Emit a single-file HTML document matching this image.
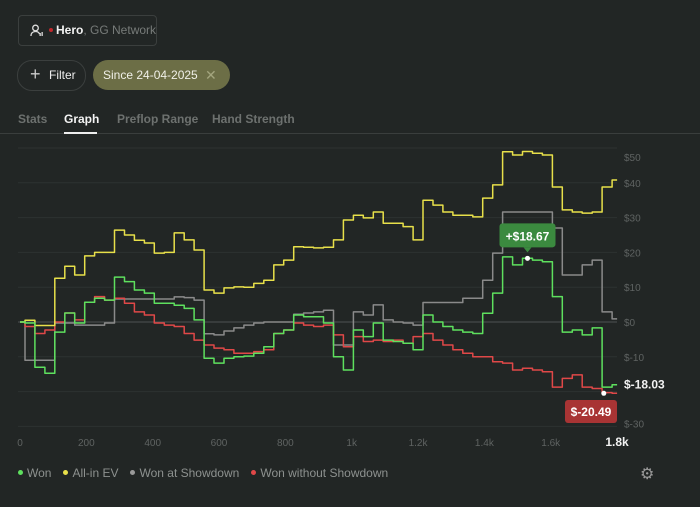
<!DOCTYPE html>
<html><head><meta charset="utf-8"><style>
body{margin:0;width:700px;height:507px;background:#222625;font-family:"Liberation Sans",sans-serif;overflow:hidden;position:relative;color:#ddd}
.abs{position:absolute;white-space:nowrap}
#hdr{left:18px;top:15px;width:137px;height:29px;border:1px solid #3b3f3e;border-radius:4px;font-size:12px;line-height:29px}
#filter{left:17px;top:60px;width:67px;height:29px;border:1px solid #3b3f3e;border-radius:15px;font-size:12px;line-height:29px}
#since{left:93px;top:60px;width:137px;height:30px;background:#6c6e46;border-radius:15px;font-size:12px;line-height:30px;color:#f0f0e8}
.tab{top:112px;font-size:12px;font-weight:bold;color:#6d716f}
#legend{left:18px;top:466px;font-size:12px;color:#8d918f}
#legend span{margin-right:12px}
.dot{display:inline-block;width:5px;height:5px;border-radius:50%;margin-right:4px;vertical-align:middle;position:relative;top:-1px}
</style></head><body>
<div id="hdr" class="abs">
<svg class="abs" style="left:11px;top:8px" width="14" height="14" viewBox="0 0 14 14"><circle cx="5.5" cy="4" r="2.8" fill="none" stroke="#ddd" stroke-width="1.3"/><path d="M1 12c0-3 2-4.5 4.5-4.5S9 8.5 9.5 10" fill="none" stroke="#ddd" stroke-width="1.3"/><rect x="9.5" y="9" width="1.3" height="3" fill="#ddd"/><rect x="11.5" y="8" width="1.3" height="4" fill="#ddd"/></svg>
<span class="abs" style="left:30px;top:12px;width:4px;height:4px;border-radius:50%;background:#c0282c"></span>
<span class="abs" style="left:37px;top:0"><b style="color:#f2f2f2">Hero</b><span style="color:#777b79">, GG Network</span></span>
</div>
<div id="filter" class="abs"><span class="abs" style="left:12px;top:-1px;font-size:18px;color:#ccc">+</span><span class="abs" style="left:31px;color:#eee">Filter</span></div>
<div id="since" class="abs"><span class="abs" style="left:10px">Since 24-04-2025</span><span class="abs" style="left:112px;color:#a3a57e;font-size:14px">✕</span></div>
<div class="abs tab" style="left:18px">Stats</div>
<div class="abs tab" style="left:64px;color:#f4f4f4">Graph</div>
<div class="abs tab" style="left:117px">Preflop Range</div>
<div class="abs tab" style="left:212px">Hand Strength</div>
<div class="abs" style="left:0;top:133px;width:700px;height:1px;background:#3a3e3d"></div>
<div class="abs" style="left:64px;top:132px;width:33px;height:2px;background:#eee"></div>
<svg id="chart" class="abs" style="left:0;top:0" width="700" height="460"></svg>
<div id="legend" class="abs">
<span><i class="dot" style="background:#5ee05e"></i>Won</span><span><i class="dot" style="background:#e8e04a"></i>All-in EV</span><span><i class="dot" style="background:#999"></i>Won at Showdown</span><span><i class="dot" style="background:#e04848"></i>Won without Showdown</span>
</div>
<div class="abs" style="left:640px;top:464px;font-size:16px;color:#999">⚙</div>
<script>
const hands=[0,30,60,90,120,150,180,210,240,270,300,330,360,390,420,450,480,510,540,570,600,630,660,690,720,750,780,810,840,870,900,930,960,990,1020,1050,1080,1110,1140,1170,1200,1230,1260,1290,1320,1350,1380,1410,1440,1470,1500,1530,1560,1590,1620,1650,1680,1710,1740,1770,1800];
const allinEV=[0,0.5,-1,-1,12.6,16,13.5,19,20,20,26.4,25,23.5,22.7,19.8,20,25.6,23.6,20.7,9.2,8.3,9.8,10.1,10,11.1,12,16.4,17.8,21.6,21.5,21.3,21.5,23.6,29.3,30.7,29.9,31.6,28.4,28.4,27.4,23.6,35,33.6,31.6,30.7,30.7,30.2,35.6,39.4,48.9,48,49,48.5,48,38.8,32.2,31.6,31.3,31.6,38.8,40.8];
const won=[0,-0.3,-13,-14.7,-2.9,2.6,-0.3,5.7,6.8,6.3,12.9,11.6,9.2,8.3,5.4,5.4,4.8,3.9,0.6,-10.4,-11.8,-10.4,-10,-9.8,-9,-7.1,-3.3,-2.3,2,1.5,1.5,-0.3,-10,-13.8,-2.3,-4.2,-0.3,-5.2,-5.6,-6.1,-8,2,0,-1.3,-2.3,-2.9,-3.3,2.5,8.3,18.7,16.4,18.3,17.8,17.3,7.3,-2.9,-2.3,-3.7,-1.7,-18.7,-18.03];
const showdown=[0,-11,-11,-11,-0.3,-0.3,-0.9,-0.9,-0.9,-0.3,6.6,6.6,6.6,6.6,6.6,6.6,7.2,7,6.3,-3.4,-3.7,-2.6,-1.7,-0.9,-0.3,0,0,0,2.2,2.6,2.9,3.4,-6.6,-6.6,2.9,2,4.9,0.6,0,-0.3,-0.9,5.6,5.6,5.6,5.6,6.8,6.8,12,19.8,31.6,31.6,31.6,31.6,31.6,27,13.5,13.5,16.4,17.8,2.9,0.9];
const noShowdown=[0,-1.3,-3.3,-2.3,0,2.6,0.6,5.7,7.3,6.3,6.8,5.4,2.9,2,-0.3,-0.9,-1.3,-3.3,-5.2,-6.6,-7.5,-8,-9,-9,-8.5,-8,-3.3,-2.3,-0.3,-0.9,-1.3,-0.9,-3.7,-7.1,-4.2,-5.6,-5.2,-5.6,-5.2,-6.1,-4.2,-3.3,-5.2,-6.6,-8,-9,-10,-10,-11.4,-11.8,-13.8,-13.3,-13.8,-14.3,-18.7,-16.2,-15.2,-18.7,-19.1,-20.3,-20.49];
const yTicks=[50,40,30,20,10,0,-10,-20,-30];
const yTickLabels=["$50","$40","$30","$20","$10","$0","$-10","$-20","$-30"];
const xTicks=[0,200,400,600,800,1000,1200,1400,1600,1800];
const xTickLabels=["0","200","400","600","800","1k","1.2k","1.4k","1.6k","1.8k"];
const x=h=>20+h*0.3317;
const y=v=>322-v*3.48;
const svg=document.getElementById('chart');const NS='http://www.w3.org/2000/svg';
function mk(t,a){const e=document.createElementNS(NS,t);for(const k in a)e.setAttribute(k,a[k]);svg.appendChild(e);return e;}
yTicks.forEach((v,i)=>{
 const l=mk('line',{x1:18,x2:617,y1:y(v),y2:y(v),stroke:v===0?'#4f5352':'#2d3231','stroke-width':1});
 
 
 if(yTickLabels[i]==="$-20")return;
 let ty=y(v)+4; if(v===50)ty+=9; if(v===-30)ty-=3;
 const t=mk('text',{x:624,y:ty,fill:'#5f6362','font-size':10});t.textContent=yTickLabels[i];
 
 
});
xTicks.forEach((h,i)=>{
 const last=i===xTicks.length-1;
 const t=mk('text',{x:x(h),y:446,fill:last?'#f2f2f2':'#5f6362','font-size':last?12:10,'font-weight':last?'bold':'normal','text-anchor':'middle'});t.textContent=xTickLabels[i];
 
 
});
function series(vals,color,name){
 let d='M'+x(hands[0]).toFixed(1)+','+y(vals[0]).toFixed(1);
 for(let i=1;i<vals.length;i++){const mx=(x(hands[i-1])+x(hands[i]))/2;d+='H'+mx.toFixed(1)+'V'+y(vals[i]).toFixed(1)+'H'+x(hands[i]).toFixed(1);}
 const p=mk('path',{d:d,fill:'none',stroke:color,'stroke-width':1.5,'stroke-linejoin':'round'});
 
 
}
series(showdown,'#8a8a8a','line-won-at-showdown');
series(noShowdown,'#e04848','line-won-without-showdown');
series(allinEV,'#e8e04a','line-allin-ev');
series(won,'#5ee05e','line-won');
const gi=51, gx=x(hands[gi]), gy=y(won[gi]);
const gb=mk('rect',{x:gx-28,y:gy-35,width:56,height:24,rx:3,fill:'#3b8a3f'});


mk('path',{d:`M${gx-4},${gy-11}L${gx},${gy-6}L${gx+4},${gy-11}Z`,fill:'#3b8a3f'});
const gt=mk('text',{x:gx,y:gy-18,fill:'#fff','font-size':12,'font-weight':'bold','text-anchor':'middle'});gt.textContent='+$18.67';


mk('circle',{cx:gx,cy:gy,r:2.5,fill:'#fff'});
const rx=x(1760), ry=y(noShowdown[noShowdown.length-1]);
const rb=mk('rect',{x:565,y:400,width:52,height:23,rx:3,fill:'#a83434'});


const rt=mk('text',{x:591,y:416,fill:'#fff','font-size':12,'font-weight':'bold','text-anchor':'middle'});rt.textContent='$-20.49';


mk('circle',{cx:rx,cy:ry,r:2.5,fill:'#fff'});
const wt=mk('text',{x:624,y:y(won[won.length-1])+4,fill:'#f2f2f2','font-size':12,'font-weight':'bold'});wt.textContent='$-18.03';


</script>
</body></html>
